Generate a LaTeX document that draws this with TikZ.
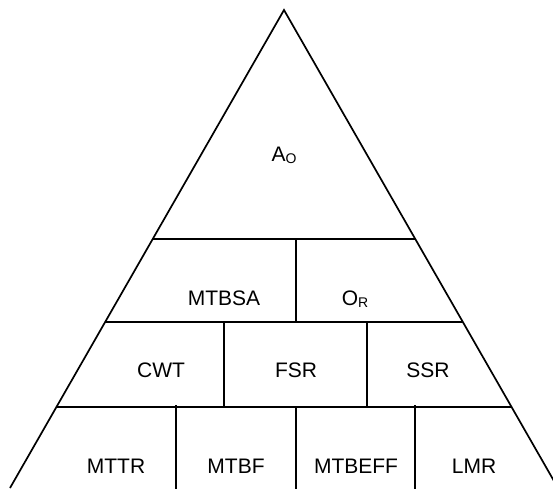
\documentclass[tikz,border=0pt]{standalone}
\usepackage{fontspec}
\setmainfont{Liberation Sans}
\usetikzlibrary{calc}
% small lowered index letter, as in A_O and O_R
\newcommand{\lowidx}[1]{{\fontsize{14}{14}\selectfont\raisebox{-2.5pt}{#1}}}
\begin{document}
\begin{tikzpicture}[x=1pt,y=-1pt,
  edge/.style={line width=1.7pt,line cap=butt},
  label/.style={anchor=base,inner sep=0pt,font=\fontsize{21}{21}\selectfont}]
  \useasboundingbox (0,0) rectangle (553,488);
  \clip (0,0) rectangle (553,488);
  % outline of the pyramid
  \coordinate (apex) at (284,10);
  \coordinate (bl) at (10,488);
  \coordinate (br) at (558,488);
  \draw[edge,line join=miter] (bl) -- (apex) -- (br);
  % tier boundaries
  \coordinate (l1) at ($(apex)!0.479!(bl)$);
  \coordinate (r1) at ($(apex)!0.479!(br)$);
  \coordinate (l2) at ($(apex)!0.6527!(bl)$);
  \coordinate (r2) at ($(apex)!0.6527!(br)$);
  \coordinate (l3) at ($(apex)!0.8305!(bl)$);
  \coordinate (r3) at ($(apex)!0.8305!(br)$);
  \draw[edge] (l1) -- (r1);
  \draw[edge] (l2) -- (r2);
  \draw[edge] (l3) -- (r3);
  % dividers inside the tiers
  \coordinate (d1t) at (296,239); \coordinate (d1b) at (296,322);
  \coordinate (d2t) at (224,322); \coordinate (d2b) at (224,407);
  \coordinate (d3t) at (367,322); \coordinate (d3b) at (367,407);
  \coordinate (d4t) at (176,405); \coordinate (d4b) at (176,490);
  \coordinate (d5t) at (296,407); \coordinate (d5b) at (296,490);
  \coordinate (d6t) at (415,405); \coordinate (d6b) at (415,490);
  \foreach \d in {1,...,6} \draw[edge] (d\d t) -- (d\d b);
  % labels
  \node[label] (ao) at (284,161) {A\lowidx{O}};
  \node[label] (mtbsa) at (224,305) {MTBSA};
  \node[label] (or) at (355,305) {O\lowidx{R}};
  \node[label] (cwt) at (161,377) {CWT};
  \node[label] (fsr) at (296,377) {FSR};
  \node[label] (ssr) at (428,377) {SSR};
  \node[label] (mttr) at (116,473) {MTTR};
  \node[label] (mtbf) at (236,473) {MTBF};
  \node[label] (mtbeff) at (356,473) {MTBEFF};
  \node[label] (lmr) at (474,473) {LMR};
\end{tikzpicture}
\end{document}
